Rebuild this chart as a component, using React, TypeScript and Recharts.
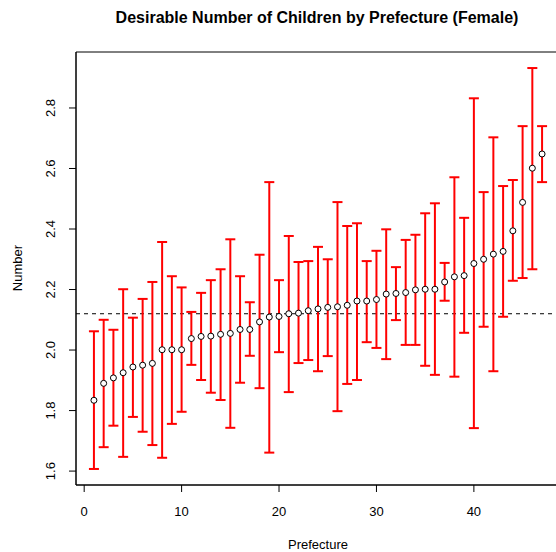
import { ScatterChart, Scatter, ErrorBar, XAxis, YAxis, ReferenceLine, ReferenceArea } from 'recharts'

// prefecture rank order (sorted by mean)
const means = [1.834, 1.89, 1.908, 1.925, 1.944, 1.95, 1.956, 2.001, 2.001, 2.001, 2.038, 2.045, 2.046, 2.052, 2.055, 2.068, 2.068, 2.093, 2.109, 2.111, 2.12, 2.122, 2.13, 2.136, 2.141, 2.143, 2.148, 2.162, 2.162, 2.167, 2.185, 2.187, 2.19, 2.199, 2.201, 2.201, 2.225, 2.242, 2.246, 2.286, 2.3, 2.317, 2.326, 2.394, 2.488, 2.601, 2.648]
const upper = [2.062, 2.1, 2.067, 2.201, 2.107, 2.169, 2.225, 2.357, 2.244, 2.207, 2.126, 2.189, 2.231, 2.267, 2.366, 2.244, 2.158, 2.315, 2.555, 2.231, 2.377, 2.291, 2.294, 2.341, 2.3, 2.489, 2.41, 2.419, 2.294, 2.328, 2.399, 2.274, 2.364, 2.381, 2.452, 2.485, 2.288, 2.571, 2.437, 2.832, 2.522, 2.703, 2.542, 2.562, 2.74, 2.932, 2.74]
const lower = [1.607, 1.679, 1.75, 1.647, 1.779, 1.73, 1.686, 1.644, 1.756, 1.796, 1.951, 1.901, 1.859, 1.835, 1.743, 1.892, 1.981, 1.874, 1.661, 1.993, 1.861, 1.957, 1.967, 1.93, 1.98, 1.798, 1.888, 1.901, 2.026, 2.007, 1.97, 2.099, 2.017, 2.017, 1.948, 1.918, 2.163, 1.912, 2.057, 1.742, 2.077, 1.93, 2.11, 2.229, 2.238, 2.267, 2.555]
const overallMean = 2.12
const xTicks = [0, 10, 20, 30, 40]
const yTicks = [1.6, 1.8, 2.0, 2.2, 2.4, 2.6, 2.8]

const data = means.map((m, i) => ({
  rank: i + 1,
  mean: m,
  err: [m - lower[i], upper[i] - m],
}))

const font = '"Liberation Sans", Arial, Helvetica, sans-serif'
const X_DOMAIN: [number, number] = [-0.84, 48.84]
const Y_DOMAIN: [number, number] = [1.554, 2.985]

const YTick = ({ y, payload }: any) => (
  <text x={55} y={y} transform={`rotate(-90 55 ${y})`} textAnchor="middle" fontSize={13} fontFamily={font} fill="#000">
    {payload.value.toFixed(1)}
  </text>
)

const Dot = (props: any) => <circle cx={props.cx} cy={props.cy} r={3} fill="#fff" stroke="#000" strokeWidth={1} />

export default function App() {
  return (
    <div style={{ position: 'absolute', left: 0, top: 0, width: 556, height: 552, overflow: 'hidden', background: '#fff' }}>
      <ScatterChart width={564} height={552} margin={{ top: 52, right: 4, bottom: 27, left: 16 }}>
        <XAxis
          type="number"
          dataKey="rank"
          domain={X_DOMAIN}
          ticks={xTicks}
          allowDataOverflow
          height={40}
          tickSize={7}
          tickMargin={15}
          axisLine={{ stroke: '#000' }}
          tickLine={{ stroke: '#000' }}
          tick={{ fontSize: 13, fontFamily: font, fill: '#000' }}
        />
        <YAxis
          type="number"
          dataKey="mean"
          domain={Y_DOMAIN}
          ticks={yTicks}
          allowDataOverflow
          width={60}
          tickSize={7}
          axisLine={{ stroke: '#000' }}
          tickLine={{ stroke: '#000' }}
          tick={<YTick />}
        />
        <ReferenceArea x1={X_DOMAIN[0]} x2={X_DOMAIN[1]} y1={Y_DOMAIN[0]} y2={Y_DOMAIN[1]} fill="none" stroke="#000" strokeWidth={1} fillOpacity={0} />
        <ReferenceLine y={overallMean} stroke="#000" strokeDasharray="4 4" />
        <Scatter data={data} shape={<Dot />} isAnimationActive={false}>
          <ErrorBar dataKey="err" direction="y" width={5} stroke="#ff0000" strokeWidth={2} isAnimationActive={false} />
        </Scatter>
      </ScatterChart>
      <svg width={556} height={552} style={{ position: 'absolute', left: 0, top: 0, pointerEvents: 'none' }}>
        <text x={317} y={23} textAnchor="middle" fontSize={16} fontWeight="bold" fontFamily={font} fill="#000">
          Desirable Number of Children by Prefecture (Female)
        </text>
        <text x={318} y={549} textAnchor="middle" fontSize={13} fontFamily={font} fill="#000">
          Prefecture
        </text>
        <text x={22} y={268} transform="rotate(-90 22 268)" textAnchor="middle" fontSize={13} fontFamily={font} fill="#000">
          Number
        </text>
      </svg>
    </div>
  )
}
